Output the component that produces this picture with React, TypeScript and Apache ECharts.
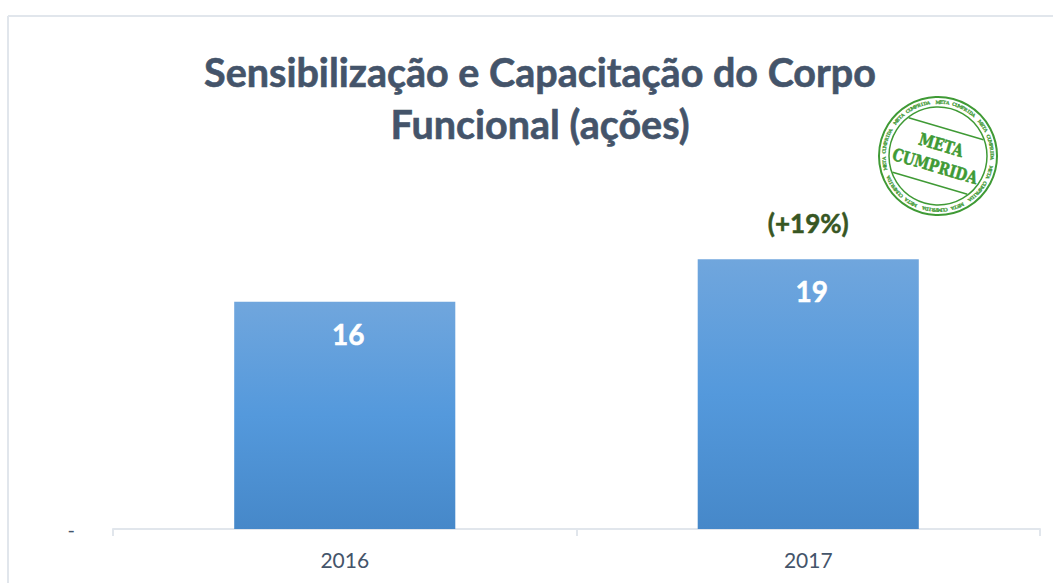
import React, { useEffect, useRef } from "react";
import * as echarts from "echarts";

const titleLines = ["Sensibilização e Capacitação do Corpo", "Funcional (ações)"];
const categories = ["2016", "2017"];
const actions = [16, 19];
const annotations = ["", "(+19%)"];
const annotationAnchor = [null, 19];
const stampWords = ["META", "CUMPRIDA"];
const ringPhrase = "META CUMPRIDA  ";
const ringRepeats = 7;

const FONT = "Lato, Carlito, sans-serif";
const STAMP_FONT = "DejaVu Serif, serif";
const SLATE = "#44546a";
const RULE = "#e1e6ec";
const STAMP = "#3f9a35";

function stamp(): any {
  const ringText = ringPhrase.repeat(ringRepeats);
  const ring: any[] = ringText.split("").map((ch, i) => {
    const a = (i / ringText.length) * Math.PI * 2;
    const r = 54;
    return {
      type: "text",
      x: Math.sin(a) * r,
      y: -Math.cos(a) * r,
      rotation: -a,
      style: {
        text: ch, fill: STAMP, fontSize: 4.5, fontWeight: "bold",
        fontFamily: STAMP_FONT, align: "center", verticalAlign: "middle",
        stroke: STAMP, lineWidth: 0.25,
      },
    };
  });
  return {
    type: "group",
    x: 938,
    y: 156,
    silent: true,
    children: [
      { type: "circle", shape: { cx: 0, cy: 0, r: 59 }, style: { fill: "none", stroke: STAMP, lineWidth: 2 } },
      { type: "circle", shape: { cx: 0, cy: 0, r: 49 }, style: { fill: "none", stroke: STAMP, lineWidth: 1.5 } },
      ...ring,
      {
        type: "group",
        rotation: -Math.PI / 11,
        children: [
          { type: "line", shape: { x1: -39, y1: -28.5, x2: 39, y2: -28.5 }, style: { stroke: STAMP, lineWidth: 1.5 } },
          { type: "line", shape: { x1: -39, y1: 28.5, x2: 39, y2: 28.5 }, style: { stroke: STAMP, lineWidth: 1.5 } },
          {
            type: "text", x: 0, y: -11, scaleX: 0.8,
            style: { text: stampWords[0], fill: STAMP, fontSize: 17, fontWeight: "bold", fontFamily: STAMP_FONT, align: "center", verticalAlign: "middle", stroke: STAMP, lineWidth: 0.6 },
          },
          {
            type: "text", x: 0, y: 11, scaleX: 0.8,
            style: { text: stampWords[1], fill: STAMP, fontSize: 17, fontWeight: "bold", fontFamily: STAMP_FONT, align: "center", verticalAlign: "middle", stroke: STAMP, lineWidth: 0.6 },
          },
        ],
      },
    ],
  };
}

export default function App() {
  const ref = useRef<HTMLDivElement>(null);
  useEffect(() => {
    const chart = echarts.init(ref.current!, undefined, { renderer: "svg" });
    chart.setOption({
      animation: false,
      backgroundColor: "#fff",
      title: {
        text: titleLines.join("\n"),
        left: 535,
        top: 40,
        textAlign: "center",
        textStyle: {
          color: SLATE, fontFamily: FONT, fontWeight: "bold", fontSize: 39.5, lineHeight: 52,
          textBorderColor: SLATE, textBorderWidth: 0.6,
        },
      },
      grid: { left: 113, right: 13, top: 245, bottom: 54 },
      xAxis: {
        type: "category",
        data: categories,
        axisLine: { lineStyle: { color: RULE, width: 2 } },
        axisTick: { show: true, length: 7, lineStyle: { color: RULE, width: 2 } },
        axisLabel: { color: SLATE, fontFamily: FONT, fontSize: 21, margin: 20 },
      },
      yAxis: {
        type: "value",
        min: 0,
        max: 20,
        interval: 20,
        splitLine: { show: false },
        axisLine: { show: false },
        axisTick: { show: false },
        axisLabel: {
          color: SLATE, fontFamily: FONT, fontSize: 20, margin: 38,
          formatter: (v: number) => (v === 0 ? "-" : ""),
        },
      },
      series: [
        {
          type: "bar",
          data: actions,
          barWidth: "47.7%",
          itemStyle: {
            color: new echarts.graphic.LinearGradient(0, 0, 0, 1, [
              { offset: 0, color: "#70a6dd" },
              { offset: 0.5, color: "#5499dc" },
              { offset: 1, color: "#4688c9" },
            ]),
          },
          label: {
            show: true, position: "insideTop", distance: 18, offset: [3.5, 0], color: "#fff",
            fontFamily: FONT, fontWeight: "bold", fontSize: 28,
            textBorderColor: "#fff", textBorderWidth: 0.5,
          },
        },
        {
          type: "line",
          data: annotationAnchor,
          symbol: "circle",
          symbolSize: 1,
          itemStyle: { color: "transparent" },
          lineStyle: { opacity: 0 },
          label: {
            show: true, position: "top", distance: 23, color: "#375623",
            fontFamily: FONT, fontWeight: "bold", fontSize: 26,
            textBorderColor: "#375623", textBorderWidth: 0.5,
            formatter: (p: any) => annotations[p.dataIndex],
          },
        },
      ],
      graphic: [
        { type: "line", silent: true, shape: { x1: 8, y1: 16, x2: 1053, y2: 16 }, style: { stroke: RULE, lineWidth: 2 } },
        { type: "line", silent: true, shape: { x1: 8, y1: 16, x2: 8, y2: 583 }, style: { stroke: RULE, lineWidth: 2 } },
        stamp(),
      ],
    });
    return () => chart.dispose();
  }, []);
  return <div ref={ref} style={{ position: "absolute", left: 0, top: 0, width: 1053, height: 583 }} />;
}
